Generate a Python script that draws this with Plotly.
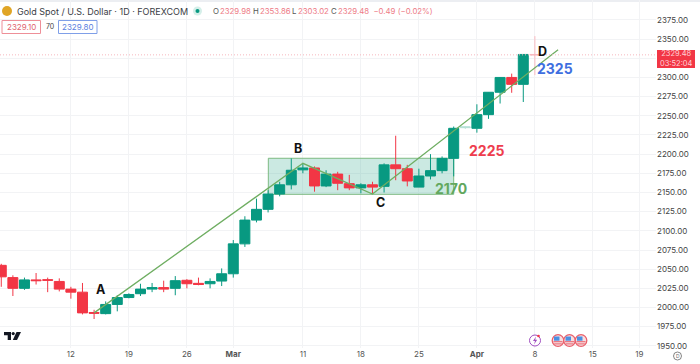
import plotly.graph_objects as go

W, H = 700, 364
PL_R, PL_B = 656, 348

# Main candles, one per trading day; index 0 = 2 Feb 2024
idx = list(range(47))
opens = [2055,2039,2025,2036,2036.3,2034,2024,2020,1993.5,1992,2004,2013,2018,2024,2026,2025,2035.5,2031.5,2031,2034.5,
         2044,2083,2114,2128,2148,2160,2179.5,2182,2158.5,2174,2161.5,2156,2160,2158,2186,2181,2157,2171.5,2178.5,2194.5,
         2234.5,2233.7,2251.5,2280.7,2300,2291,2329.98]
highs = [2057,2042,2039,2045,2039,2038,2027,2032,1997,2008,2016,2018.5,2031,2032,2035,2041,2037,2039,2038,2051,
         2088,2119,2142,2153,2164,2194.5,2188,2184,2179,2177,2173,2162,2164,2188,2224,2186,2181,2200,2197,2236,
         2236,2265,2281,2300.5,2305,2330.5,2353.86]
lows = [2027,2015,2023,2030,2020,2021,2011.5,1991,1985,1991,1995,2012,2015,2020,2020,2016,2025,2029,2025,2028,
        2039,2079,2111,2124,2145,2154,2175,2151,2157,2153,2153,2149,2149,2150,2166,2158,2157,2167,2175,2171,
        2233,2228,2246,2266,2280,2268,2303.02]
closes = [2040,2025,2036,2035,2035.5,2024,2020,1993,1992.5,2004,2013,2017,2024,2026,2024,2035,2031,2030,2034,2044,
          2083,2114,2128,2148,2160,2179,2182,2158.5,2174,2162,2156,2160,2157,2186,2181,2165,2171.5,2178.5,2194.5,2233.7,
          2235.5,2251.5,2280.7,2300,2291,2330,2329.48]
pale = [40, 46]

# Drawing annotations
wave_x = [8, 26, 32, 48]
wave_y = [1993, 2188, 2148, 2336]
box_x = [23.02, 39]
box_y = [2147.6, 2194.6]
last_price = 2329.48

y_ticks = list(range(1950, 2376, 25))
x_tick_pos = [6, 11, 16, 20, 26, 31, 36, 41, 46, 51, 55]
x_tick_txt = ["12", "19", "26", "<b>Mar</b>", "11", "18", "25", "<b>Apr</b>", "8", "15", "19"]

UP, DOWN = "#089981", "#F23645"
FONT = "Inter, Roboto, Arial, sans-serif"

def px(x): return x / PL_R
def py(y): return 1 - y / PL_B

solid = [i for i in idx if i not in pale]
pick = lambda a, ii: [a[i] for i in ii]

def candle(ii, up, down):
    return go.Candlestick(
        x=ii, open=pick(opens, ii), high=pick(highs, ii), low=pick(lows, ii), close=pick(closes, ii),
        increasing=dict(line=dict(color=up, width=1), fillcolor=up),
        decreasing=dict(line=dict(color=down, width=1), fillcolor=down),
        whiskerwidth=0, showlegend=False, hoverinfo="skip")

fig = go.Figure()
fig.add_trace(candle(solid, UP, DOWN))
fig.add_trace(candle(pale, "#b5e0d6", "#f9b9c0"))
fig.add_trace(go.Scatter(x=wave_x, y=wave_y, mode="lines", line=dict(color="#6fae62", width=1.3),
                         showlegend=False, hoverinfo="skip"))

shapes = [
    dict(type="rect", xref="paper", yref="paper", x0=0, x1=W/PL_R, y0=py(0), y1=py(2),
         fillcolor="#eceef2", line_width=0, layer="below"),
    dict(type="rect", x0=box_x[0], x1=box_x[1], y0=box_y[0], y1=box_y[1], layer="between",
         fillcolor="rgba(70,175,150,0.28)", line=dict(color="#7dba82", width=1)),
    dict(type="line", xref="paper", x0=0, x1=1, y0=last_price, y1=last_price,
         line=dict(color="#f6b8be", width=1, dash="1px,2px"), layer="above"),
]

def box_px(x0, y0, x1, y1, **kw):
    return dict(type="rect", xref="paper", yref="paper", x0=px(x0), x1=px(x1), y0=py(y0), y1=py(y1), **kw)

def circ_px(cx, cy, r, **kw):
    return dict(type="circle", xref="paper", yref="paper", x0=px(cx-r), x1=px(cx+r), y0=py(cy-r), y1=py(cy+r), **kw)

def poly_px(pts, **kw):
    d = "M " + " L ".join(f"{px(a):.5f},{py(b):.5f}" for a, b in pts) + " Z"
    return dict(type="path", xref="paper", yref="paper", path=d, line_width=0, **kw)

shapes += [
    circ_px(7, 11, 5, fillcolor="#e0a526", line_width=0),
    circ_px(197.5, 11, 4.5, fillcolor="#d5efe9", line_width=0),
    circ_px(197.5, 11, 2, fillcolor="#089981", line_width=0),
    box_px(2, 20.5, 40.5, 33.5, line=dict(color="#ee8f98", width=1), fillcolor="white"),
    box_px(58.5, 20.5, 97, 33.5, line=dict(color="#7f9fe8", width=1), fillcolor="white"),
    box_px(657, 50, 695, 68, fillcolor="#F23645", line_width=0),
    circ_px(535, 340.5, 5.5, fillcolor="white", line=dict(color="#a04fc0", width=1)),
    poly_px([(536, 336.5), (533, 341), (535, 341), (534, 344.5), (537.2, 339.8), (535.2, 339.8)], fillcolor="#a04fc0"),
    circ_px(538.5, 336, 1.3, fillcolor="#F23645", line_width=0),
    circ_px(677.5, 356, 4, fillcolor="white", line=dict(color="#666", width=0.8)),
    # chart logo
    poly_px([(4, 332), (11, 332), (11, 340), (7.7, 340), (7.7, 335.2), (4, 335.2)], fillcolor="#131722"),
    circ_px(13.2, 333.6, 1.6, fillcolor="#131722", line_width=0),
    poly_px([(16.5, 332), (21, 332), (17, 340), (12.8, 340)], fillcolor="#131722"),
]
for cx in (558, 569.5, 581):
    shapes += [
        circ_px(cx, 340.5, 5.8, fillcolor="#f7dfe1", line=dict(color="#e9606c", width=1.3)),
        box_px(cx-4.5, 341.2, cx+4.5, 342.2, fillcolor="#e9606c", line_width=0),
        box_px(cx-3.8, 343.4, cx+3.8, 344.4, fillcolor="#e9606c", line_width=0),
        box_px(cx-4, 336.5, cx+1.5, 340.7, fillcolor="#4a90e2", line_width=0),
    ]

def note(x, y, text, size=8.5, color="#333", anchor="left", bold=False, **kw):
    return dict(xref="paper", yref="paper", x=px(x), y=py(y), text=f"<b>{text}</b>" if bold else text,
                showarrow=False, xanchor=anchor, yanchor="middle",
                font=dict(size=size, color=color, family=FONT), **kw)

RT = "#ee7b86"
annotations = [
    note(15, 11, "Gold Spot / U.S. Dollar · 1D · FOREXCOM", 9, "#3a3d45"),
    note(211, 11, "O", 7.8, "#555"),
    note(218, 11, "2329.98", 7.8, RT),
    note(251, 11, "H", 7.8, "#555"),
    note(258, 11, "2353.86", 7.8, RT),
    note(290, 11, "L", 7.8, "#555"),
    note(296, 11, "2303.02", 7.8, RT),
    note(329, 11, "C", 7.8, "#555"),
    note(336, 11, "2329.48  −0.49 (−0.02%)", 7.8, RT),
    note(21.2, 27, "2329.10", 8, "#e0636f", "center"),
    note(49.5, 27, "70", 7, "#444", "center"),
    note(77.7, 27, "2329.80", 8, "#5a80e0", "center"),
    note(676, 59, "2329.48<br>03:52:04", 7.5, "#ffd0d4", "center"),
    note(101, 289, "A", 12.5, "#111", "center", True),
    note(298, 148, "B", 12.5, "#111", "center", True),
    note(380, 202, "C", 12.5, "#111", "center", True),
    note(542, 51, "D", 12.5, "#111", "center", True),
    note(555, 68, "2325", 14, "#3f6fe0", "center", True),
    note(486, 150, "2225", 14, "#ee3d4e", "center", True),
    note(451, 188, "2170", 14, "#62a85e", "center", True),
    note(677.5, 356, "D", 5, "#666", "center"),
]

fig.update_layout(
    width=W, height=H, autosize=False,
    margin=dict(l=0, r=W-PL_R, t=0, b=H-PL_B, pad=0),
    paper_bgcolor="white", plot_bgcolor="white",
    boxmode="overlay", boxgap=0.14, boxgroupgap=0,
    shapes=shapes, annotations=annotations,
    font=dict(family=FONT),
    xaxis=dict(range=[-0.11, 56.44], tickvals=x_tick_pos, ticktext=x_tick_txt, rangeslider=dict(visible=False),
               showgrid=True, gridcolor="#f2f3f5", gridwidth=1, zeroline=False, showline=False, ticks="",
               tickangle=0, tickfont=dict(size=8, color="#555", family=FONT)),
    yaxis=dict(range=[1947.2, 2401], side="right", tickvals=y_ticks, ticktext=[f"{v:.2f}" for v in y_ticks],
               showgrid=True, gridcolor="#f2f3f5", gridwidth=1, zeroline=False, showline=False, ticks="",
               tickfont=dict(size=8, color="#444", family=FONT)),
)
fig.write_html("out.html", config=dict(displayModeBar=False),
               post_script="document.body.style.margin='0';document.body.style.overflow='hidden';")
